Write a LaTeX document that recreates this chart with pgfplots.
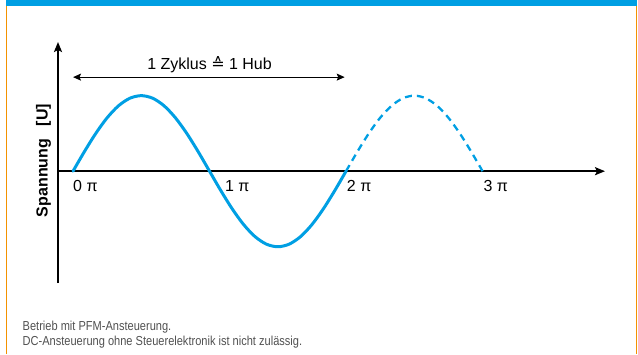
\documentclass[border=0pt]{standalone}
\usepackage{pgfplots}
\pgfplotsset{compat=1.18}
\usepackage{fontspec}
\setmainfont{Liberation Sans}
\newfontfamily\dejavu{DejaVu Sans}
\newfontfamily\narrowfont[FakeStretch=0.85]{Liberation Sans}
\usetikzlibrary{arrows.meta}

\definecolor{wblue}{HTML}{009FE3}
\definecolor{worange}{HTML}{F39200}
\definecolor{wgray}{HTML}{505050}

% sine, x in units of pi
\pgfplotstableread{
x y
0.0000 0.0000
0.0833 0.2588
0.1667 0.5000
0.2500 0.7071
0.3333 0.8660
0.4167 0.9659
0.5000 1.0000
0.5833 0.9659
0.6667 0.8660
0.7500 0.7071
0.8333 0.5000
0.9167 0.2588
1.0000 0.0000
1.0833 -0.2588
1.1667 -0.5000
1.2500 -0.7071
1.3333 -0.8660
1.4167 -0.9659
1.5000 -1.0000
1.5833 -0.9659
1.6667 -0.8660
1.7500 -0.7071
1.8333 -0.5000
1.9167 -0.2588
2.0000 0.0000
}\solidpart
\pgfplotstableread{
x y
2.0000 0.0000
2.0833 0.2588
2.1667 0.5000
2.2500 0.7071
2.3333 0.8660
2.4167 0.9659
2.5000 1.0000
2.5833 0.9659
2.6667 0.8660
2.7500 0.7071
2.8333 0.5000
2.9167 0.2588
3.0000 0.0000
}\dashedpart

\begin{document}
\begin{tikzpicture}[x=1bp,y=1bp]
\path[use as bounding box] (0,0) rectangle (638,354);
% frame
\fill[wblue] (6,348) rectangle (637,354);
\draw[worange,line width=1.3bp] (6.6,0) -- (6.6,348);
\draw[worange,line width=1.3bp] (636.4,0) -- (636.4,348);

\begin{axis}[
    at={(58bp,71bp)}, anchor=south west,
    scale only axis,
    width=547bp, height=241bp,
    xmin=-0.11, xmax=3.897,
    ymin=-1.48, ymax=1.71,
    axis x line=middle,
    axis y line=left,
    axis line style={line width=2bp},
    x axis line style={-{Stealth[length=10bp,width=8bp,inset=2bp]}},
    y axis line style={-{Stealth[length=10bp,width=8bp,inset=2bp]}},
    xtick=\empty, ytick=\empty,
    clip=false,
]
\addplot[wblue, line width=3bp, smooth, line cap=round] table {\solidpart};
\addplot[wblue, line width=2.3bp, smooth, dash pattern=on 7bp off 5bp] table {\dashedpart};

% cycle arrow
\draw[line width=1.2bp, {Stealth[length=8bp,width=7bp,inset=1.5bp]}-{Stealth[length=8bp,width=7bp,inset=1.5bp]}]
    (axis cs:0,1.245) -- (axis cs:1.99,1.245);
\node[anchor=base, inner sep=0pt, font=\fontsize{16bp}{19bp}\selectfont]
    at (axis cs:1,1.345) {1 Zyklus {\dejavu ≙} 1 Hub};

% pi labels
\tikzset{pilab/.style={anchor=base west, inner sep=0pt, font=\fontsize{16bp}{19bp}\selectfont}}
\node[pilab] at (axis cs:0,-0.274) {0 π};
\node[pilab] at (axis cs:1.113,-0.274) {1 π};
\node[pilab] at (axis cs:2.005,-0.274) {2 π};
\node[pilab] at (axis cs:3.006,-0.274) {3 π};
\end{axis}

% y label
\node[rotate=90, anchor=base, inner sep=0pt, font=\fontsize{16bp}{19bp}\selectfont\bfseries]
    at (47.7,193.5) {Spannung\hspace{0.8em}[U]};

% notes
\node[anchor=base west, inner sep=0pt, text=wgray, font=\narrowfont\fontsize{13bp}{15bp}\selectfont]
    at (22.5,24) {Betrieb mit PFM-Ansteuerung.};
\node[anchor=base west, inner sep=0pt, text=wgray, font=\narrowfont\fontsize{13bp}{15bp}\selectfont]
    at (22.5,9) {DC-Ansteuerung ohne Steuerelektronik ist nicht zulässig.};
\end{tikzpicture}
\end{document}
